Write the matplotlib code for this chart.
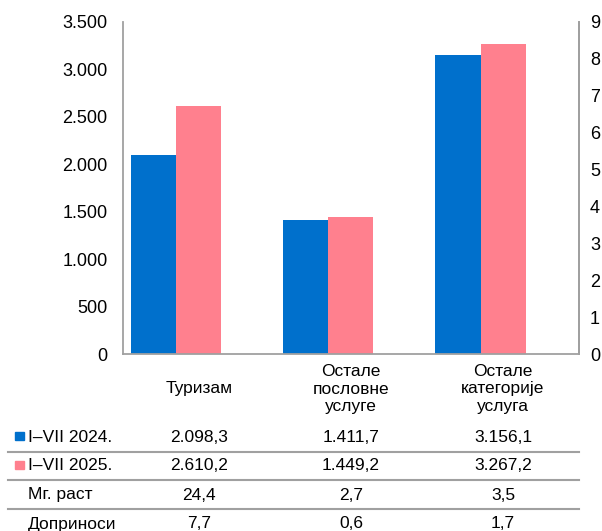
import numpy as np
import matplotlib.pyplot as plt

plt.rcParams['font.family'] = ['Liberation Sans', 'DejaVu Sans']

categories = ['Туризам', 'Остале\nпословне\nуслуге', 'Остале\nкатегорије\nуслуга']
series_names = ['I–VII 2024.', 'I–VII 2025.']
val_2024 = [2098.3, 1411.7, 3156.1]
val_2025 = [2610.2, 1449.2, 3267.2]
growth = [24.4, 2.7, 3.5]
contrib = [7.7, 0.6, 1.7]
lbl_2024 = ['2.098,3', '1.411,7', '3.156,1']
lbl_2025 = ['2.610,2', '1.449,2', '3.267,2']
lbl_growth = ['24,4', '2,7', '3,5']
lbl_contrib = ['7,7', '0,6', '1,7']
yticks = [0, 500, 1000, 1500, 2000, 2500, 3000, 3500]
ytick_labels = ['0', '500', '1.000', '1.500', '2.000', '2.500', '3.000', '3.500']
y2ticks = list(range(10))

blue = '#0070CC'
pink = '#FF808E'
grey = '#A0A0A0'

fig = plt.figure(figsize=(6.02, 5.31), dpi=100)
ax = fig.add_axes([0.2043, 0.3333, 0.7575, 0.6253])
x = np.arange(len(categories))
w = 45 / 152

ax.bar(x - 1.5 * w, val_2024, w, color=blue, align='edge')
ax.bar(x - 0.5 * w, val_2025, w, color=pink, align='edge')
ax.set_xlim(-0.5, 2.5)
ax.set_ylim(0, 3500)
ax.set_yticks(yticks)
ax.set_yticklabels(ytick_labels, fontsize=13)
ax.set_xticks([])
ax.tick_params(axis='y', length=0, pad=11)
for s in ['left', 'bottom', 'right']:
    ax.spines[s].set_color(grey)
    ax.spines[s].set_linewidth(1.3)
ax.spines['top'].set_visible(False)

# secondary axis (contributions, invisible bars)
ax2 = ax.twinx()
ax2.bar(x + 0.5 * w, contrib, w, align='edge', visible=False)
ax2.set_ylim(0, 9)
ax2.set_yticks(y2ticks)
ax2.set_yticklabels([str(t) for t in y2ticks], fontsize=13)
ax2.tick_params(axis='y', length=0, pad=8)
for s in ['left', 'bottom', 'top']:
    ax2.spines[s].set_visible(False)
ax2.spines['right'].set_color(grey)
ax2.spines['right'].set_linewidth(1.3)

# table below the chart, columns aligned with the categories
W, H = 602, 531
def fy(py):
    return 1 - py / H

def col_fx(i):
    disp = ax.transData.transform((i, 0))
    return fig.transFigure.inverted().transform(disp)[0]

for i, cat in enumerate(categories):
    fig.text(col_fx(i), fy(389), cat, ha='center', va='center', fontsize=12.5,
             linespacing=1.2)

rows = [lbl_2024, lbl_2025, lbl_growth, lbl_contrib]
row_names = series_names + ['Мг. раст', 'Доприноси']
row_y = [437, 466, 495, 524]
for name, vals, ry in zip(row_names, rows, row_y):
    fig.text(28 / W, fy(ry), name, ha='left', va='center', fontsize=12.5)
    for i, v in enumerate(vals):
        fig.text(col_fx(i), fy(ry), v, ha='center', va='center', fontsize=12.5)

for i, c in enumerate([blue, pink]):
    fig.patches.append(plt.Rectangle((15 / W, fy(row_y[i] + 3)), 9 / W, 8 / H,
                                     transform=fig.transFigure, color=c))

for ly in [452, 480, 509]:
    fig.add_artist(plt.Line2D([8 / W, 579 / W], [fy(ly), fy(ly)],
                              transform=fig.transFigure, color=grey, lw=1.5))

fig.savefig('out.png', dpi=100)
